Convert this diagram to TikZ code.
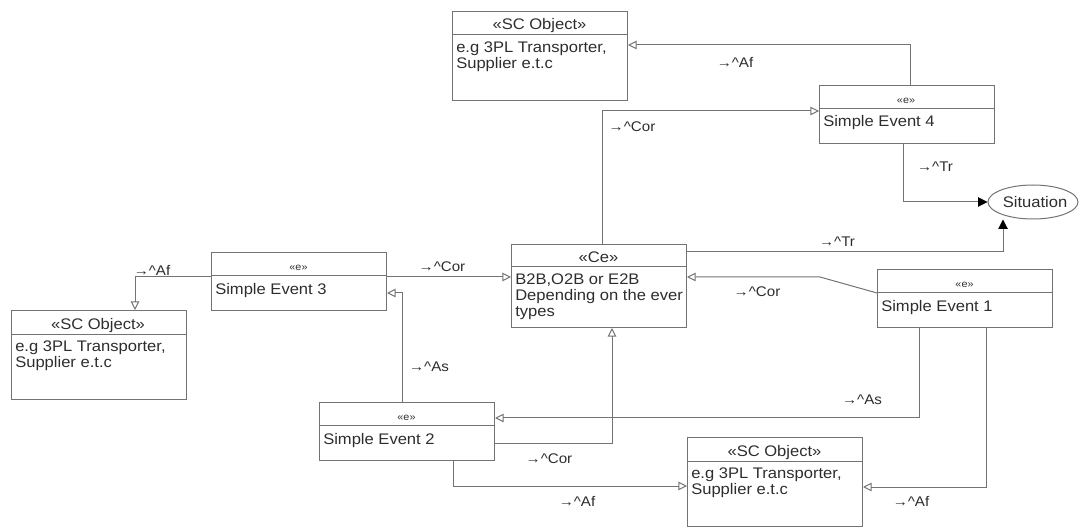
\documentclass[tikz,border=0pt]{standalone}
\usepackage{fontspec}
\setmainfont{Liberation Sans}[FakeStretch=1.08]
\usetikzlibrary{arrows.meta,shapes.geometric}
\definecolor{umlgray}{RGB}{115,115,115}
\definecolor{umltext}{RGB}{45,45,45}

\begin{document}
\begin{tikzpicture}[x=0.75pt,y=0.75pt,yscale=-1,xscale=1,
  font=\fontsize{11.5}{12}\selectfont, text=umltext,
  umlbox/.style={draw=umlgray, line width=0.75, minimum width=131.25pt, inner sep=0pt, anchor=north west},
  divider/.style={draw=umlgray, line width=0.75},
  stereo/.style={anchor=base, inner sep=0pt},
  smallstereo/.style={anchor=base, inner sep=0pt, font=\fontsize{7.5}{8}\selectfont},
  boxtext/.style={anchor=north west, align=left, inner sep=0pt},
  rel/.style={draw=umlgray, line width=0.75, -{Triangle[open, length=6.5pt, width=6.5pt]}},
  trig/.style={draw=umlgray, line width=0.75, -{Triangle[length=7pt, width=7pt, color=black]}},
  role/.style={font=\fontsize{10.5}{12}\selectfont, inner sep=0pt}
]
\path [use as bounding box] (0,0) rectangle (1079,527);

%Shape: Rectangle (SC object, top)
\node [umlbox, minimum height=66.75pt] (scTop) at (452,11) {};
\draw [divider] (scTop.west |- 0,35) -- (scTop.east |- 0,35);
%Shape: Rectangle (simple event 4)
\node [umlbox, minimum height=43.5pt] (se4) at (819,85) {};
\draw [divider] (se4.west |- 0,109) -- (se4.east |- 0,109);
%Shape: Rectangle (complex event)
\node [umlbox, minimum height=62.25pt] (ce) at (511,244) {};
\draw [divider] (ce.west |- 0,267) -- (ce.east |- 0,267);
%Shape: Rectangle (simple event 3)
\node [umlbox, minimum height=43.5pt] (se3) at (211,252) {};
\draw [divider] (se3.west |- 0,276) -- (se3.east |- 0,276);
%Shape: Rectangle (SC object, left)
\node [umlbox, minimum height=66.75pt] (scLeft) at (11,310) {};
\draw [divider] (scLeft.west |- 0,335) -- (scLeft.east |- 0,335);
%Shape: Rectangle (simple event 2)
\node [umlbox, minimum height=43.5pt] (se2) at (319,402) {};
\draw [divider] (se2.west |- 0,426) -- (se2.east |- 0,426);
%Shape: Rectangle (simple event 1)
\node [umlbox, minimum height=43.5pt] (se1) at (877,269) {};
\draw [divider] (se1.west |- 0,293) -- (se1.east |- 0,293);
%Shape: Rectangle (SC object, bottom)
\node [umlbox, minimum height=66.75pt] (scBot) at (687,437) {};
\draw [divider] (scBot.west |- 0,461) -- (scBot.east |- 0,461);
%Shape: Ellipse
\node [ellipse, draw=umlgray, line width=0.75, minimum width=67.5pt, minimum height=25.5pt, inner sep=0pt] (sit) at (1033,202) {};

%Straight Lines
\draw [rel] (se4.north -| 910,0) |- (scTop.east |- 0,45);
\draw [rel] (ce.north -| 602,0) |- (se4.west |- 0,111);
\draw [trig] (se4.south -| 903,0) |- (sit.west);
\draw [trig] (ce.east |- 0,252) -| (sit.south -| 1003,0);
\draw [rel] (se1.west |- 0,293) -- (820,277) -- (ce.east |- 0,277);
\draw [rel] (se1.south -| 919,0) |- (se2.east |- 0,418);
\draw [rel] (se1.south -| 986,0) |- (scBot.east |- 0,487);
\draw [rel] (se2.east |- 0,444) -| (ce.south -| 612,0);
\draw [rel] (se2.south -| 453,0) |- (scBot.west |- 0,486);
\draw [rel] (se2.north -| 402,0) |- (se3.east |- 0,293);
\draw [rel] (se3.east |- 0,277) -- (ce.west |- 0,277);
\draw [rel] (se3.west |- 0,277) -| (scLeft.north -| 135,0);

% Text Node
\node [stereo] (scTopHead) at (539.5,30) {«SC Object»};
\node [boxtext] (scTopBody) at (456,42) {e.g 3PL Transporter,\\Supplier e.t.c};
\node [smallstereo] (se4Head) at (906,104) {«e»};
\node [boxtext] (se4Body) at (823,115) {Simple Event 4};
\node [stereo] (ceHead) at (598.5,263) {«Ce»};
\node [boxtext] (ceBody) at (515,274) {B2B,O2B or E2B\\Depending on the ever\\types};
\node [smallstereo] (se3Head) at (298.5,271) {«e»};
\node [boxtext] (se3Body) at (215,283) {Simple Event 3};
\node [stereo] (scLeftHead) at (98,330) {«SC Object»};
\node [boxtext] (scLeftBody) at (15,341) {e.g 3PL Transporter,\\Supplier e.t.c};
\node [smallstereo] (se2Head) at (406.5,421) {«e»};
\node [boxtext] (se2Body) at (323,433) {Simple Event 2};
\node [smallstereo] (se1Head) at (964.5,288) {«e»};
\node [boxtext] (se1Body) at (881,300) {Simple Event 1};
\node [stereo] (scBotHead) at (774.5,456) {«SC Object»};
\node [boxtext] (scBotBody) at (691,468) {e.g 3PL Transporter,\\Supplier e.t.c};
\node (sitText) at (1035,202) {Situation};

% Text Node
\node [role] (afTop) at (735,62) {→\textasciicircum Af};
\node [role] (corTop) at (632,127) {→\textasciicircum Cor};
\node [role] (trTop) at (935,167) {→\textasciicircum Tr};
\node [role] (trMid) at (837,242) {→\textasciicircum Tr};
\node [role] (corRight) at (757,292) {→\textasciicircum Cor};
\node [role] (asRight) at (862,400) {→\textasciicircum As};
\node [role] (afRight) at (911,501) {→\textasciicircum Af};
\node [role] (corLow) at (549,459) {→\textasciicircum Cor};
\node [role] (afLow) at (577,501) {→\textasciicircum Af};
\node [role] (asLeft) at (429,367) {→\textasciicircum As};
\node [role] (corLeft) at (442,267) {→\textasciicircum Cor};
\node [role] (afLeft) at (152,270) {→\textasciicircum Af};

\end{tikzpicture}
\end{document}
